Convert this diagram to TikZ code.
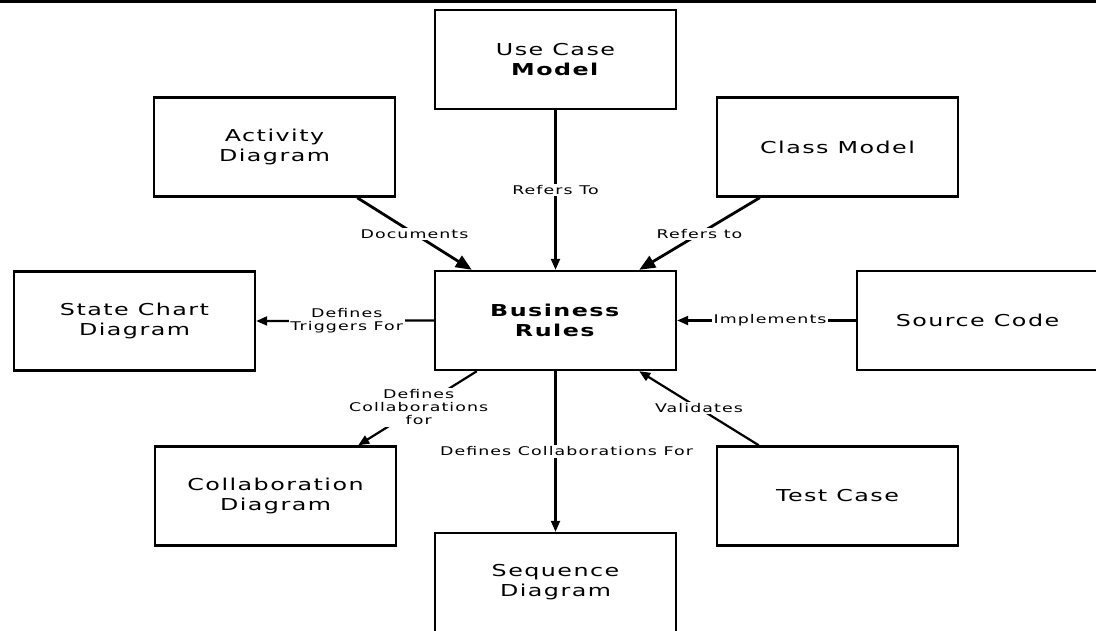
\documentclass[tikz,border=0pt]{standalone}
\usepackage{fontspec}
\usetikzlibrary{arrows.meta}
\newfontfamily\diagfont[FakeStretch=1.45,LetterSpace=9]{DejaVu Sans}
\begin{document}
\begin{tikzpicture}[x=1pt,y=-1pt,
  boxnode/.style={draw, line width=2.4pt, minimum width=241pt, minimum height=99pt, inner sep=0pt,
    align=center, font=\diagfont\fontsize{16.4}{20}\selectfont},
  lbl/.style={fill=white, inner sep=1.5pt, align=center, font=\diagfont\fontsize{12}{13}\selectfont},
  conn/.style={line width=2.2pt, -{Triangle[length=11pt,width=9pt]}},
  bigconn/.style={line width=2.8pt, -{Triangle[length=16pt,width=13pt]}}]
\clip (0,0) rectangle (1096,630);
\fill[white] (0,0) rectangle (1096,630);
\fill[black] (0,0) rectangle (1096,2.5);
% boxes
\node[boxnode] (uc)  at (555.5,59.5) {Use Case\\\textbf{Model}};
\node[boxnode] (act) at (274.5,147)  {Activity\\Diagram};
\node[boxnode] (cls) at (837.5,147)  {Class Model};
\node[boxnode] (sc)  at (134.5,321)  {State Chart\\Diagram};
\node[boxnode] (br)  at (555.5,320.5) {\textbf{Business}\\\textbf{Rules}};
\node[boxnode] (src) at (977.5,320.5) {Source Code};
\node[boxnode] (col) at (275.5,496)  {Collaboration\\Diagram};
\node[boxnode] (tc)  at (837.5,496)  {Test Case};
\node[boxnode] (seq) at (555.5,582.5) {Sequence\\Diagram};
% connectors
\draw[conn] (uc) -- node[lbl,pos=0.5]{Refers To} (br);
\draw[bigconn] ([xshift=-39pt]act.south east) -- node[lbl,pos=0.5]{Documents} ([xshift=38pt]br.north west);
\draw[bigconn] ([xshift=44pt]cls.south west) -- node[lbl,pos=0.5]{Refers to} ([xshift=-38pt]br.north east);
\draw[conn] (src.west) -- node[lbl,pos=0.48]{Implements} (br.east);
\draw[conn] (br.west) -- node[lbl,pos=0.49]{Defines\\Triggers For} (sc.east);
\draw[conn] ([xshift=43pt]br.south west) -- node[lbl,pos=0.49]{Defines\\Collaborations\\for} ([xshift=-39pt]col.north east);
\draw[conn] (br) -- node[lbl,pos=0.5,xshift=11pt]{Defines Collaborations For} (seq);
\draw[conn] ([xshift=43pt]tc.north west) -- node[lbl,pos=0.5]{Validates} ([xshift=-38pt]br.south east);
\end{tikzpicture}
\end{document}
